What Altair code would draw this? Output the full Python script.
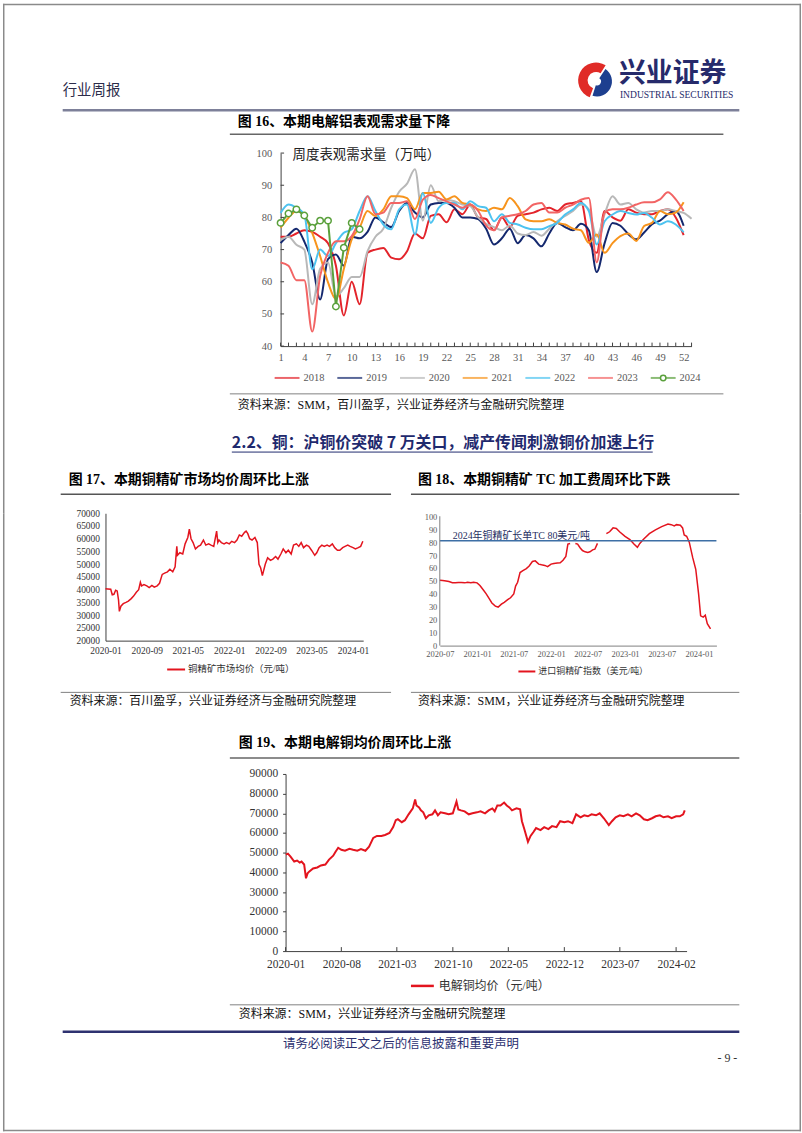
import altair as alt
import pandas as pd

SERIF = "Liberation Serif, Noto Sans CJK SC"
CJK = "Noto Sans CJK SC"
RED = "#e3141e"
NAVY = "#262a6b"

# ---------------- Figure 16: weekly apparent demand (10k t) ----------------
weeks_all = list(range(1, 54))
week_labels = list(range(1, 53, 3))
y16_ticks = [40, 50, 60, 70, 80, 90, 100]
years16 = ["2018", "2019", "2020", "2021", "2022", "2023", "2024"]
colors16 = ["#e3242b", "#14286e", "#b8b8b8", "#f7941d", "#4dc3f0", "#f26464", "#5aa03c"]

y2018 = [74, 74, 75, 76, 75.5, 74, 72, 65, 49.5, 60, 53, 69, 70, 70.5, 67.5, 67, 69.5, 75, 73.5, 80.5,
         81, 78.5, 82.5, 81, 84, 80, 79.5, 76, 80, 77, 80.5, 81, 81.5, 82.5, 83, 82, 84, 84.5, 85, 73,
         69, 82, 80, 79, 82.5, 81.5, 81, 81, 82, 82.5, 80, 74.5]
y2019 = [72, 74.5, 76.5, 72.5, 66, 54.5, 67, 68.5, 65, 74, 73.5, 75.5, 80, 78.5, 77, 82, 84.5, 81.5, 80, 84,
         84.5, 84.5, 83, 80, 80, 79.5, 76.5, 71.6, 73.5, 76.5, 72, 74.5, 73.5, 71, 75, 78.3, 77, 76, 78, 76,
         63, 72, 78.3, 77.4, 74.8, 73.2, 75.3, 77.9, 79, 81, 82, 77.4]
y2020 = [73, 74, 71.5, 70, 53, 64, 66, 55.5, 58, 61.5, 61.5, 69.5, 74, 76.5, 83, 88, 90.5, 95, 79, 90,
         85, 85.5, 85, 84, 83.5, 80, 78, 77, 76, 77.5, 75, 74.5, 75.5, 74.3, 76.5, 78.8, 80.5, 82, 84, 82.5,
         74, 81, 86.6, 84, 84.5, 82.5, 81.5, 82, 82, 82.5, 82, 81.4, 79.6]
y2021 = [76.8, 79.9, 82, 80.5, 75.2, 68, 59.8, 54.6, 64, 73.2, 76.8, 82, 80.4, 82.5, 86.6, 86.6, 86, 82.5, 87.6, 87.6,
         88, 85.6, 86.6, 84.5, 84, 82.5, 82, 83, 82.5, 86, 83.5, 79.4, 78.8, 78.8, 79.4, 78.3, 77.8, 76.5, 76, 72.1,
         74.7, 69, 72, 74.2, 75, 72.7, 77.3, 78.3, 82, 81, 81.5, 84.7]
y2022 = [81.4, 84, 83, 80.9, 63.9, 70, 68, 72, 75.2, 76.3, 82, 86.6, 82, 77.8, 76.3, 82.5, 84, 74.7, 87.6, 78.3,
         83, 84.5, 84.5, 82.5, 85, 83.5, 83, 78.8, 81, 78.3, 77.8, 76.8, 76.3, 76.3, 77.3, 78.3, 80.9, 82.5, 84.5, 82,
         71.6, 78.8, 80.9, 82, 81.4, 80.9, 81.4, 79.9, 77.8, 78.8, 77.8, 75.4]
y2023 = [66, 65, 60.5, 60.5, 44.5, 61.8, 69, 72.6, 72.6, 74.2, 79.4, 86.6, 81, 81.5, 84.5, 84.5, 85, 79.5, 85.5, 87,
         86, 85, 84, 83, 84, 82, 77.5, 76, 80, 80.5, 81, 82, 84, 84.5, 81.5, 81.5, 83, 84, 85.5, 86,
         66, 81.5, 82.5, 82.5, 83, 84, 84.7, 84.7, 85.6, 87.8, 85.6, 82]
y2024 = [78.3, 81.2, 82.5, 80.6, 76.8, 79, 79, 52.3, 70.6, 78.3, 76.3]

# ---------------- Figure 17: copper concentrate price (yuan/t) ----------------
labels17 = ["2020-01", "2020-09", "2021-05", "2022-01", "2022-09", "2023-05", "2024-01"]
y17_ticks = list(range(20000, 70001, 5000))
d17 = ["2020-01-01", "2020-01-15", "2020-02-01", "2020-02-10", "2020-02-20", "2020-03-01", "2020-03-10", "2020-03-18",
       "2020-03-23", "2020-04-01", "2020-04-15", "2020-05-01", "2020-05-15", "2020-06-01", "2020-06-15", "2020-07-01",
       "2020-07-15", "2020-07-25", "2020-08-01", "2020-08-15", "2020-09-01", "2020-09-15", "2020-10-01", "2020-10-15",
       "2020-11-01", "2020-11-15", "2020-12-01", "2020-12-15",
       "2021-01-01", "2021-01-15", "2021-02-01", "2021-02-15", "2021-02-25", "2021-03-01", "2021-03-15", "2021-04-01",
       "2021-04-15", "2021-05-01", "2021-05-10", "2021-05-20", "2021-06-01", "2021-06-15", "2021-07-01", "2021-07-15",
       "2021-08-01", "2021-08-15", "2021-09-01", "2021-09-15", "2021-10-01", "2021-10-18", "2021-10-25", "2021-11-01",
       "2021-11-15", "2021-12-01", "2021-12-15",
       "2022-01-01", "2022-01-15", "2022-02-01", "2022-02-15", "2022-03-01", "2022-03-15", "2022-04-01", "2022-04-10",
       "2022-04-20", "2022-05-01", "2022-05-15", "2022-06-01", "2022-06-15", "2022-06-25", "2022-07-05", "2022-07-15",
       "2022-08-01", "2022-08-15", "2022-09-01", "2022-09-15", "2022-10-01", "2022-10-15", "2022-11-01", "2022-11-15",
       "2022-12-01", "2022-12-15",
       "2023-01-01", "2023-01-15", "2023-02-01", "2023-02-15", "2023-03-01", "2023-03-15", "2023-04-01", "2023-04-15",
       "2023-05-01", "2023-05-20", "2023-06-01", "2023-06-15", "2023-07-01", "2023-07-15", "2023-08-01", "2023-08-15",
       "2023-09-01", "2023-09-15", "2023-10-01", "2023-10-15", "2023-11-01", "2023-11-15", "2023-12-01", "2023-12-15",
       "2024-01-01", "2024-01-15", "2024-02-01", "2024-02-15", "2024-02-28"]
p17 = [40400, 40300, 40200, 38000, 38200, 39800, 39500, 36000, 31500, 33500, 34500, 35000, 35500, 36500,
       37500, 39000, 40000, 42900, 41500, 42000, 41500, 40800, 41700, 41000, 41500, 42500, 46000, 46500,
       47000, 48000, 47000, 49000, 57000, 53500, 54500, 54000, 58000, 60500, 63800, 60000, 58500, 56000,
       57000, 57500, 59500, 57500, 58000, 57500, 57000, 63000, 58500, 59500, 58500, 58000, 58500,
       58000, 59000, 58500, 59500, 61500, 61000, 62500, 63000, 62000, 60000, 59500, 60500, 58500, 50000,
       48500, 45500, 50000, 52500, 51500, 52000, 53000, 52000, 54000, 56000, 54500, 55500,
       54000, 57500, 58000, 57000, 58500, 56500, 57500, 57000, 55500, 53500, 54500, 56500, 57500, 57000,
       57500, 57000, 58000, 56500, 55500, 55500, 56500, 57000, 57500, 57000,
       56500, 56000, 56500, 57000, 59000]

# ---------------- Figure 18: imported copper concentrate TC (USD/t) ----------------
labels18 = ["2020-07", "2021-01", "2021-07", "2022-01", "2022-07", "2023-01", "2023-07", "2024-01"]
y18_ticks = list(range(0, 101, 10))
tc_contract = 81
tc_label = "2024年铜精矿长单TC 80美元/吨"
seg1_dates = ["2020-07-01", "2020-07-15", "2020-08-01", "2020-08-15", "2020-09-01", "2020-09-15", "2020-10-01",
              "2020-10-15", "2020-11-01", "2020-11-15", "2020-12-01", "2020-12-15",
              "2021-01-01", "2021-01-15", "2021-02-01", "2021-02-15", "2021-03-01", "2021-03-15", "2021-04-01",
              "2021-04-15", "2021-05-01", "2021-05-15", "2021-06-01", "2021-06-15", "2021-07-01", "2021-07-10",
              "2021-07-20", "2021-08-01", "2021-08-15", "2021-09-01", "2021-09-15", "2021-10-01", "2021-10-15",
              "2021-11-01", "2021-11-15", "2021-12-01", "2021-12-15",
              "2022-01-01", "2022-01-15", "2022-02-01", "2022-02-15", "2022-03-01", "2022-03-15", "2022-03-25",
              "2022-04-05"]
seg1_vals = [50.5, 50.3, 50, 49.5, 48.6, 48.6, 48.8, 48.7, 48.5, 49, 48.6, 49,
             48.5, 46.5, 43, 40, 36.5, 33, 30.5, 29.8, 32, 33.5, 35.5, 37, 40, 46, 49, 56.5, 58, 59.5, 61.5,
             65, 65.5, 63, 62.5, 62, 61,
             63, 63.5, 63.8, 64, 66, 69, 78.5, 79]
seg2_dates = ["2022-05-01", "2022-05-12", "2022-05-25", "2022-06-05", "2022-06-18", "2022-07-01", "2022-07-12",
              "2022-07-25", "2022-08-05", "2022-08-18"]
seg2_vals = [79, 78.5, 75.5, 73.5, 72.5, 72, 72.5, 74, 74.5, 79]
seg3_dates = ["2022-10-01", "2022-10-17", "2022-11-03", "2022-11-19", "2022-12-05",
              "2023-01-01", "2023-01-25", "2023-02-14", "2023-03-03", "2023-03-15", "2023-04-01", "2023-05-01",
              "2023-05-31", "2023-07-01", "2023-08-01", "2023-08-17", "2023-09-01", "2023-09-12", "2023-10-01",
              "2023-10-12", "2023-10-20", "2023-11-01", "2023-11-14", "2023-12-01", "2023-12-16", "2023-12-30",
              "2024-01-09", "2024-01-22", "2024-02-01", "2024-02-11", "2024-02-27"]
seg3_vals = [86.5, 88, 91, 90.5, 88,
             84.5, 82, 78.5, 76, 79, 82, 86.5, 89.5, 92, 94, 93.5, 92.5, 93.5, 93, 91, 85.5, 84.5, 80, 68, 59, 40,
             23, 22, 23.5, 17, 13]

# ---------------- Figure 19: cathode copper price (yuan/t) ----------------
labels19 = ["2020-01", "2020-08", "2021-03", "2021-10", "2022-05", "2022-12", "2023-07", "2024-02"]
y19_ticks = list(range(0, 90001, 10000))
d19 = ["2020-01-02", "2020-01-10", "2020-01-20", "2020-02-03", "2020-02-14", "2020-02-24", "2020-03-02", "2020-03-12",
       "2020-03-19", "2020-03-25", "2020-04-01", "2020-04-15", "2020-05-01", "2020-05-15", "2020-06-01", "2020-06-15",
       "2020-07-01", "2020-07-10", "2020-07-20", "2020-08-01", "2020-08-15", "2020-09-01", "2020-09-15", "2020-10-01",
       "2020-10-15", "2020-11-01", "2020-11-15", "2020-12-01", "2020-12-15",
       "2021-01-01", "2021-01-15", "2021-02-01", "2021-02-15", "2021-02-25", "2021-03-05", "2021-03-20", "2021-04-01",
       "2021-04-15", "2021-05-01", "2021-05-10", "2021-05-15", "2021-05-25", "2021-06-01", "2021-06-10", "2021-06-20",
       "2021-07-01", "2021-07-15", "2021-07-25", "2021-08-05", "2021-08-15", "2021-09-01", "2021-09-15", "2021-10-01",
       "2021-10-15", "2021-10-22", "2021-11-01", "2021-11-15", "2021-12-01", "2021-12-15",
       "2022-01-01", "2022-01-15", "2022-02-01", "2022-02-15", "2022-03-01", "2022-03-10", "2022-03-20", "2022-04-01",
       "2022-04-15", "2022-04-25", "2022-05-05", "2022-05-15", "2022-06-01", "2022-06-15", "2022-06-22", "2022-07-01",
       "2022-07-15", "2022-07-25", "2022-08-05", "2022-08-15", "2022-09-01", "2022-09-15", "2022-10-01", "2022-10-15",
       "2022-11-01", "2022-11-15", "2022-12-01", "2022-12-15",
       "2023-01-01", "2023-01-15", "2023-02-01", "2023-02-15", "2023-03-01", "2023-03-15", "2023-04-01", "2023-04-15",
       "2023-05-01", "2023-05-20", "2023-06-01", "2023-06-15", "2023-07-01", "2023-07-15", "2023-08-01", "2023-08-15",
       "2023-09-01", "2023-09-15", "2023-10-01", "2023-10-15", "2023-11-01", "2023-11-15", "2023-12-01", "2023-12-15",
       "2024-01-01", "2024-01-15", "2024-02-01", "2024-02-15", "2024-02-28", "2024-03-05"]
p19 = [49000, 49500, 48000, 45500, 46000, 45000, 45500, 44000, 37000, 39500, 40500, 42000, 42500, 43500,
       44000, 46500, 48500, 50500, 52500, 51500, 51000, 52000, 51500, 51000, 51800, 51000, 53000, 57500, 58500,
       58500, 59000, 60000, 63000, 66500, 67000, 65500, 66500, 69500, 72500, 77000, 74000, 73000, 71500, 70500,
       67500, 69000, 69500, 71500, 69000, 70500, 70000, 69500, 70000, 76000, 72000, 71500, 71000, 69500, 70000,
       70500, 71000, 70000, 71500, 72500, 71000, 74000, 74000, 75500, 74000, 73000, 71500, 72500, 72000, 66000,
       62000, 55500, 58500, 60500, 62500, 61500, 63000, 62000, 63500, 63000, 66000, 65500, 66000,
       65000, 69500, 68000, 69000, 68500, 69500, 69000, 70000, 67500, 64000, 66000, 68000, 69000, 68500, 69500,
       68500, 70000, 69000, 67000, 66500, 67500, 68500, 69000, 68000,
       68500, 67500, 68500, 68500, 69500, 71500]

# ---------------- helpers ----------------
def one_row():
    return pd.DataFrame({"k": [0]})


def txt(s, x, y, size=12.0, color="#111111", weight="normal", align="left", font=SERIF):
    return alt.Chart(pd.DataFrame({"t": [s]})).mark_text(
        align=align, baseline="middle", fontSize=size, color=color, fontWeight=weight, font=font
    ).encode(text="t:N", x=alt.value(x), y=alt.value(y))


def hline(x1, x2, y, color="#808080", w=1.0):
    return alt.Chart(one_row()).mark_rule(color=color, strokeWidth=w).encode(
        x=alt.value(x1), x2=alt.value(x2), y=alt.value(y))


def vline(x, y1, y2, color="#8a8a8a", w=1.5):
    return alt.Chart(one_row()).mark_rule(color=color, strokeWidth=w).encode(
        x=alt.value(x), y=alt.value(y1), y2=alt.value(y2))


def sides(h):
    return [vline(0.75, 0, h), vline(801.25, 0, h)]


def spacer(w, h):
    return alt.Chart(one_row()).mark_point(opacity=0).encode(
        x=alt.value(0), y=alt.value(0)).properties(width=w, height=h)


def dt(s):
    p = s.split("-")
    return alt.DateTime(year=int(p[0]), month=int(p[1]), date=int(p[2]) if len(p) > 2 else 1, utc=True)


def axis(values, size, color, pad, fmt=None, domain=True, ticks=False, dcolor="#404040"):
    kw = dict(values=values, title=None, grid=False, labelFontSize=size, labelColor=color, labelFont=SERIF,
              domain=domain, domainColor=dcolor, domainWidth=1, labelPadding=pad, labelFlush=False,
              labelOverlap=False, ticks=ticks)
    if fmt:
        kw["format"] = fmt
    if ticks:
        kw["tickSize"] = 3
        kw["tickColor"] = dcolor
    return alt.Axis(**kw)


# ---------------- chart 16 ----------------
rows = []
for yr, vals in zip(years16[:6], [y2018, y2019, y2020, y2021, y2022, y2023]):
    for i, v in enumerate(vals):
        rows.append({"year": yr, "week": i + 1, "value": v})
df16 = pd.DataFrame(rows)
df24 = pd.DataFrame({"year": "2024", "week": list(range(1, len(y2024) + 1)), "value": y2024})

W16, H16 = 413, 194
X16 = alt.X("week:Q", scale=alt.Scale(domain=[1, 53], nice=False, zero=False),
            axis=axis(week_labels, 10.5, "#595959", 6))
Y16 = alt.Y("value:Q", scale=alt.Scale(domain=[40, 100], nice=False, zero=False),
            axis=axis(y16_ticks, 10.5, "#595959", 9))
C16 = alt.Color("year:N", scale=alt.Scale(domain=years16, range=colors16), legend=None)

lines16 = alt.Chart(df16).mark_line(interpolate="monotone", strokeWidth=2).encode(x=X16, y=Y16, color=C16)
line24 = alt.Chart(df24).mark_line(strokeWidth=2).encode(x=X16, y=Y16, color=C16)
pts24 = alt.Chart(df24).mark_point(shape="circle", size=42, fill="white", fillOpacity=1, stroke="#5aa03c",
                                   strokeWidth=1.5, opacity=1).encode(x=X16, y=Y16)
wk_ticks = alt.Chart(pd.DataFrame({"week": weeks_all})).mark_rule(color="#404040", strokeWidth=1).encode(
    x=X16, y=alt.value(H16 - 3.5), y2=alt.value(H16))
y_ticks16 = alt.Chart(pd.DataFrame({"value": y16_ticks})).mark_rule(color="#404040", strokeWidth=1).encode(
    y=Y16, x=alt.value(0), x2=alt.value(3.5))
chart16 = alt.layer(lines16, line24, pts24, wk_ticks, y_ticks16,
                    txt("周度表观需求量（万吨）", 12, 2, 13.5, "#222222", font=CJK)
                    ).properties(width=W16, height=H16)
N16 = alt.hconcat(spacer(279, H16), chart16, spacing=0, bounds="flush")

# ---------------- chart 17 ----------------
df17 = pd.DataFrame({"date": d17, "price": p17})
W17, H17 = 259, 128
X17 = alt.X("date:T", scale=alt.Scale(type="utc", domain=[dt("2020-01-01"), dt("2024-03-01")], nice=False),
            axis=axis([dt(s) for s in labels17], 9.5, "#333333", 5, fmt="%Y-%m"))
Y17 = alt.Y("price:Q", scale=alt.Scale(domain=[20000, 70000], nice=False, zero=False),
            axis=axis(y17_ticks, 9.5, "#333333", 6, fmt="d"))
chart17 = alt.Chart(df17).mark_line(color=RED, strokeWidth=1.5).encode(x=X17, y=Y17).properties(
    width=W17, height=H17)

# ---------------- chart 18 ----------------
df18 = pd.concat([
    pd.DataFrame({"date": seg1_dates, "tc": seg1_vals, "seg": "a"}),
    pd.DataFrame({"date": seg2_dates, "tc": seg2_vals, "seg": "b"}),
    pd.DataFrame({"date": seg3_dates, "tc": seg3_vals, "seg": "c"}),
], ignore_index=True)
W18, H18 = 278, 133
Y18_TOP = 102.3
X18 = alt.X("date:T", scale=alt.Scale(type="utc", domain=[dt("2020-07-01"), dt("2024-03-27")], nice=False),
            axis=axis([dt(s) for s in labels18], 8.5, "#595959", 4, fmt="%Y-%m", dcolor="#7f7f7f"))
Y18 = alt.Y("tc:Q", scale=alt.Scale(domain=[0, Y18_TOP], nice=False, zero=False),
            axis=axis(y18_ticks, 8.5, "#595959", 3, domain=False))
line18 = alt.Chart(df18).mark_line(color=RED, strokeWidth=1.5).encode(x=X18, y=Y18, detail="seg:N")
tc_df = pd.DataFrame({"tc": [tc_contract], "t": [tc_label]})
tc_rule = alt.Chart(tc_df).mark_rule(color="#3d6fa5", strokeWidth=1.5).encode(
    y=Y18, x=alt.value(0), x2=alt.value(W18))
tc_text = alt.Chart(tc_df).mark_text(align="left", baseline="middle", dy=-4.5, fontSize=10, color="#1f2f5f",
                                     font=SERIF).encode(y=Y18, x=alt.value(13), text="t:N")
y18_line = vline(0, H18 * (1 - 100 / Y18_TOP), H18, "#7f7f7f", 1)
chart18 = alt.layer(line18, tc_rule, tc_text, y18_line).properties(width=W18, height=H18)

N1718 = alt.hconcat(spacer(103, H17), chart17, spacer(77, H17), chart18, spacing=0, bounds="flush")

# ---------------- chart 19 ----------------
df19 = pd.DataFrame({"date": d19, "price": p19})
W19, H19 = 403, 178
X19 = alt.X("date:T", scale=alt.Scale(type="utc", domain=[dt("2020-01-01"), dt("2024-03-12")], nice=False),
            axis=axis([dt(s) for s in labels19], 11.5, "#333333", 7, fmt="%Y-%m"))
Y19 = alt.Y("price:Q", scale=alt.Scale(domain=[0, 90000], nice=False, zero=False),
            axis=axis(y19_ticks, 11.5, "#333333", 5, fmt="d", ticks=True))
line19 = alt.Chart(df19).mark_line(color=RED, strokeWidth=2).encode(x=X19, y=Y19)
x_ticks19 = alt.Chart(pd.DataFrame({"date": [s + "-01" for s in labels19]})).mark_rule(
    color="#404040", strokeWidth=1).encode(x=X19, y=alt.value(H19 - 4), y2=alt.value(H19))
chart19 = alt.layer(line19, x_ticks19).properties(width=W19, height=H19)
N19 = alt.hconcat(spacer(284, H19), chart19, spacing=0, bounds="flush")

# ---------------- text rows ----------------
logo_red = alt.Chart(one_row()).mark_arc(color="#e02b27", theta=3.5, theta2=6.85, radius=18, radius2=8.5).encode(
    x=alt.value(596), y=alt.value(77))
logo_blue = alt.Chart(one_row()).mark_arc(color="#1d3f8f", theta=0.6, theta2=3.45, radius=15, radius2=4).encode(
    x=alt.value(597), y=alt.value(78))

U1 = alt.layer(
    *sides(150), hline(0, 802, 0.75, "#8a8a8a", 1.5),
    txt("行业周报", 60, 88, 14.5, "#2c2c4a", font=CJK),
    logo_red, logo_blue,
    txt("兴业证券", 619, 71, 27, NAVY, weight="bold", font=CJK),
    txt("INDUSTRIAL SECURITIES", 620, 92, 9.6, NAVY, font="Liberation Serif"),
    hline(60, 740, 107, "#7d8099", 2.5),
    txt("图 16、本期电解铝表观需求量下降", 236, 119, 14, "#000000", weight="bold"),
    hline(228, 724, 131, "#666666", 1.5),
).properties(width=802, height=150)

leg16 = pd.DataFrame({"year": years16, "i": list(range(len(years16)))})
LX = alt.X("i:Q", scale=alt.Scale(domain=[0, 1], range=[285.5, 348.5]), axis=None)
leg_lines = alt.Chart(leg16).mark_tick(orient="horizontal", size=25, thickness=2).encode(
    x=LX, y=alt.value(226), color=C16)
leg_pt = alt.Chart(leg16).transform_filter(alt.datum.year == "2024").mark_point(
    shape="circle", size=30, fill="white", fillOpacity=1, stroke="#5aa03c", strokeWidth=1.5, opacity=1).encode(
    x=LX, y=alt.value(226))
leg_txt = alt.Chart(leg16).mark_text(align="left", baseline="middle", dx=16.5, fontSize=10.5, color="#595959",
                                     font=SERIF).encode(x=LX, y=alt.value(226), text="year:N")

U2 = alt.layer(
    *sides(362),
    leg_lines, leg_pt, leg_txt,
    hline(228, 724, 242, "#808080", 1),
    txt("资料来源：SMM，百川盈孚，兴业证券经济与金融研究院整理", 236, 253, 12),
    txt("2.2、铜：沪铜价突破 7 万关口，减产传闻刺激铜价加速上行", 230, 291, 16, "#1f2a6e", weight="bold", font=CJK),
    hline(230, 653, 300.5, "#1f2a6e", 1),
    txt("图 17、本期铜精矿市场均价周环比上涨", 66, 329, 14, "#000000", weight="bold"),
    txt("图 18、本期铜精矿 TC 加工费周环比下跌", 417, 329, 14, "#000000", weight="bold"),
    hline(58, 390, 343, "#555555", 1.5),
    hline(410, 740, 343, "#555555", 1.5),
).properties(width=802, height=362)

U3 = alt.layer(
    *sides(262),
    hline(165, 183, 157, RED, 2),
    txt("铜精矿市场均价（元/吨）", 186, 157, 9.5, "#333333"),
    hline(518, 535, 159, RED, 2),
    txt("进口铜精矿指数（美元/吨）", 538, 159, 9, "#333333"),
    hline(58, 390, 180, "#808080", 1),
    hline(410, 740, 180, "#808080", 1),
    txt("资料来源：百川盈孚，兴业证券经济与金融研究院整理", 67, 189, 12),
    txt("资料来源：SMM，兴业证券经济与金融研究院整理", 417, 189, 12),
    txt("图 19、本期电解铜均价周环比上涨", 237, 231, 14, "#000000", weight="bold"),
    hline(228, 740, 246, "#666666", 1.5),
).properties(width=802, height=262)

U4 = alt.layer(
    *sides(359), hline(0, 802, 358.25, "#8a8a8a", 1.5),
    hline(410, 433, 213, RED, 2.5),
    txt("电解铜均价（元/吨）", 438, 213, 12, "#333333"),
    hline(228, 740, 232, "#808080", 1),
    txt("资料来源：SMM，兴业证券经济与金融研究院整理", 237, 241, 12),
    hline(60, 740, 259, "#2e3270", 2.5),
    txt("请务必阅读正文之后的信息披露和重要声明", 400, 271, 12.5, "#2b3070", align="center", font=CJK),
    txt("- 9 -", 738, 285, 12, "#333333", align="right"),
).properties(width=802, height=359)

chart = alt.vconcat(U1, N16, U2, N1718, U3, N19, U4, spacing=0, bounds="flush").properties(
    padding=0, background="white"
).configure_view(strokeWidth=0).configure_axis(grid=False)

chart.save("out.html", embed_options={"renderer": "svg", "actions": False})
